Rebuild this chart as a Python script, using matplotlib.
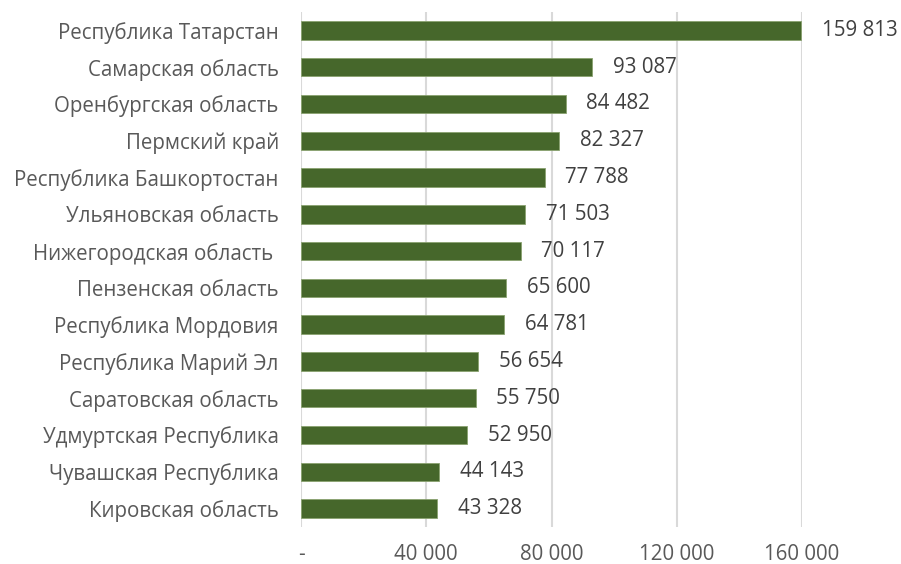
import matplotlib
matplotlib.use("Agg")
import matplotlib.pyplot as plt

regions = [
    "Республика Татарстан",
    "Самарская область",
    "Оренбургская область",
    "Пермский край",
    "Республика Башкортостан",
    "Ульяновская область",
    "Нижегородская область ",
    "Пензенская область",
    "Республика Мордовия",
    "Республика Марий Эл",
    "Саратовская область",
    "Удмуртская Республика",
    "Чувашская Республика",
    "Кировская область",
]
values = [159813, 93087, 84482, 82327, 77788, 71503, 70117,
          65600, 64781, 56654, 55750, 52950, 44143, 43328]
x_ticks = [0, 40000, 80000, 120000, 160000]
x_tick_labels = ["-", "40 000", "80 000", "120 000", "160 000"]

plt.rcParams["font.family"] = ["Open Sans", "DejaVu Sans"]

fig = plt.figure(figsize=(9.01, 5.64), dpi=100)
ax = fig.add_axes([301 / 901, 1 - 527 / 564, 501 / 901, 515 / 564])

pos = list(range(len(regions)))
ax.barh(pos, values, height=0.5, color="#46672b", edgecolor="#8aa270",
        linewidth=0.6, zorder=3)
ax.set_ylim(len(regions) - 0.5, -0.5)
ax.set_xlim(0, 160000)

ax.set_yticks(pos)
ax.set_yticklabels(regions, fontsize=14.8, color="#595959")
ax.set_xticks(x_ticks)
ax.set_xticklabels(x_tick_labels, fontsize=14.8, color="#595959")
ax.tick_params(axis="both", length=0)
ax.tick_params(axis="y", pad=16)
ax.tick_params(axis="x", pad=12)

for p, v in zip(pos, values):
    label = f"{v:,}".replace(",", " ")
    ax.annotate(label, (v, p), xytext=(15, 0), textcoords="offset points",
                va="center", ha="left", fontsize=14.8, color="#404040",
                annotation_clip=False)

ax.grid(axis="x", color="#d9d9d9", linewidth=1.5, zorder=0)
for s in ax.spines.values():
    s.set_visible(False)

fig.savefig("out.png", dpi=100)
